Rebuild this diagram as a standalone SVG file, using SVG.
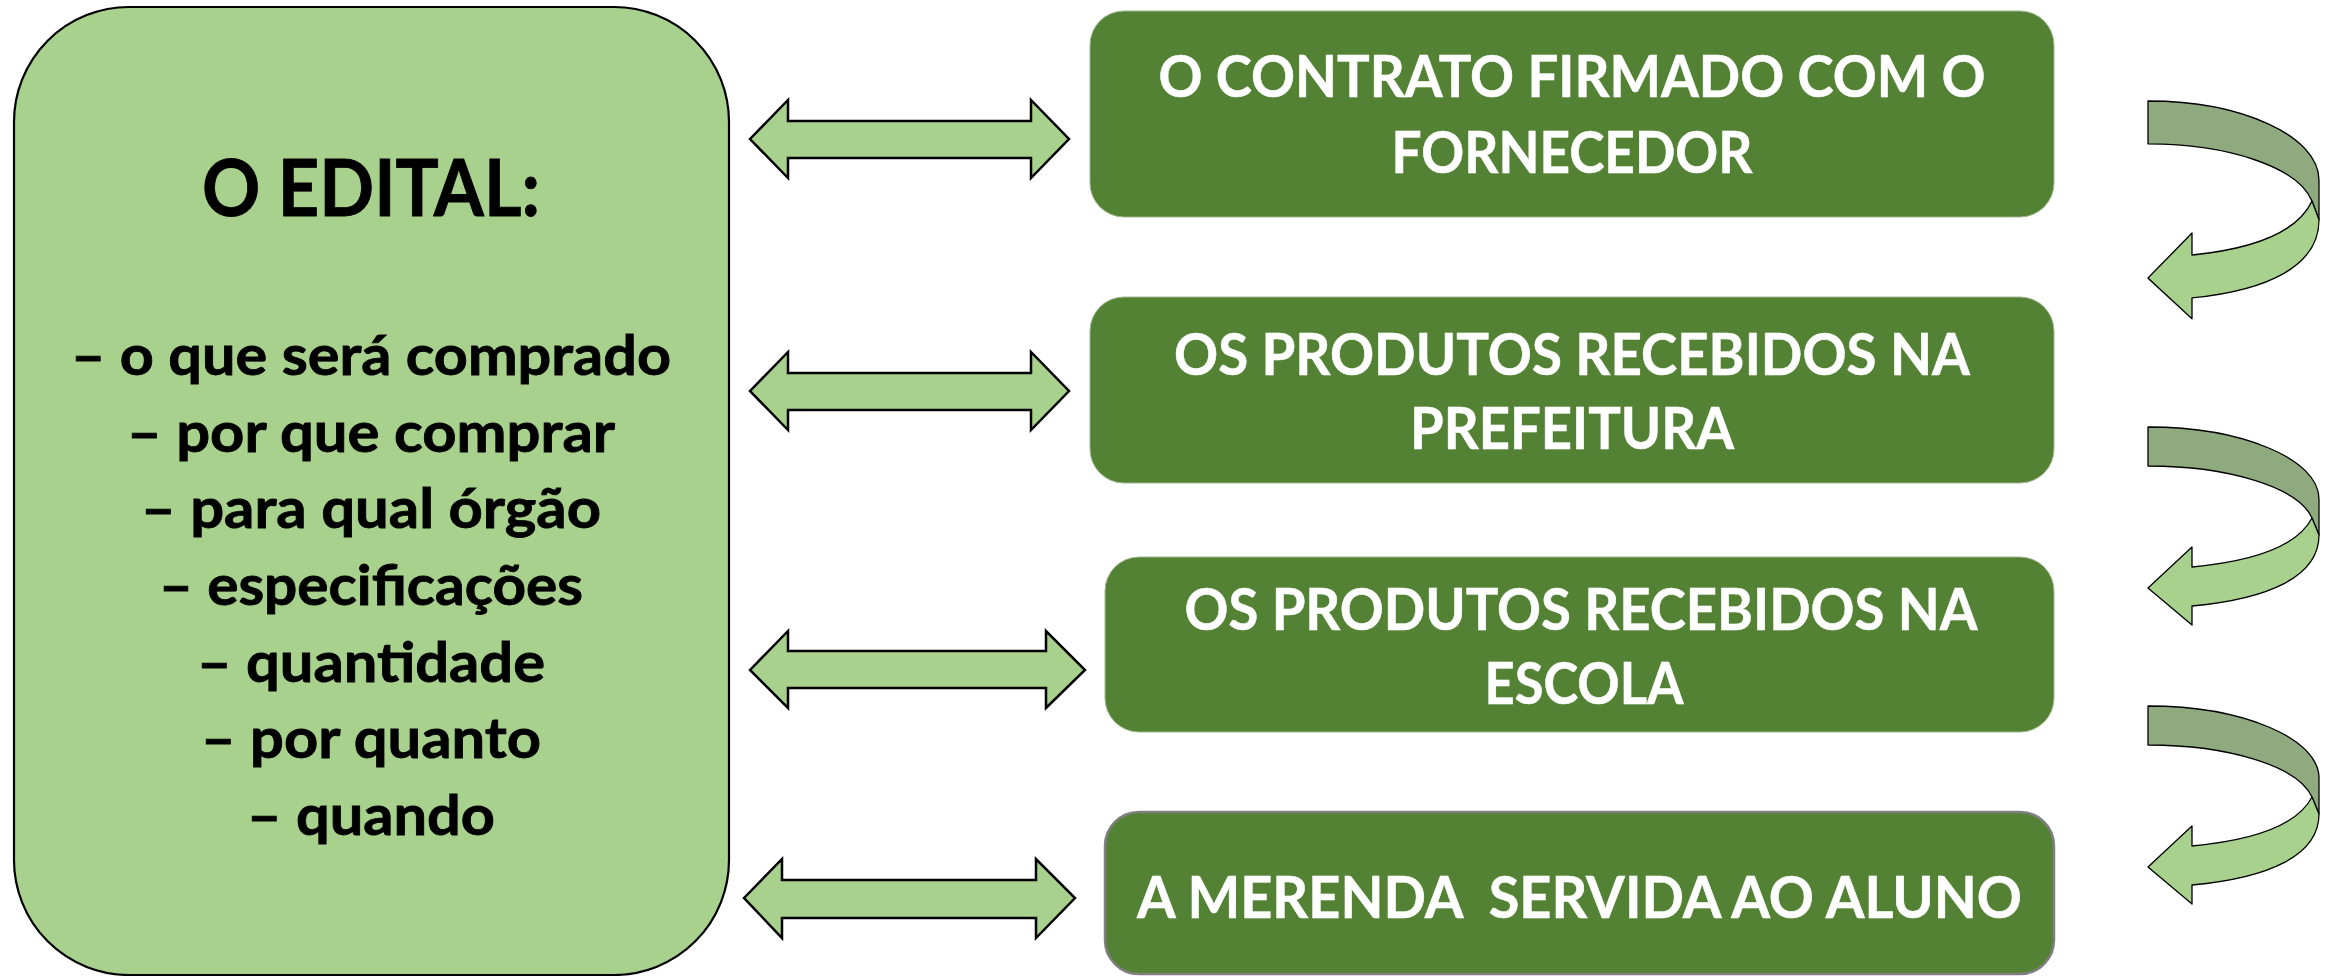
<svg xmlns="http://www.w3.org/2000/svg" xmlns:xlink="http://www.w3.org/1999/xlink" width="2328" height="976" viewBox="0 0 2328 976">
<style>
.edital{fill:#A9D18E;stroke:#000;stroke-width:2.2}
.step{fill:#548235;stroke:#9fb98f;stroke-width:1}
.step4{fill:#548235;stroke:#7f7f7f;stroke-width:2.5}
.dbl{fill:#A9D18E;stroke:#000;stroke-width:2.5;stroke-linejoin:miter}
.curlback{fill:#8FAA7F;stroke:#000;stroke-width:1.3;stroke-linejoin:round}
.curlfront{fill:#A9D18E;stroke:#000;stroke-width:1.3;stroke-linejoin:round}
.t{font-family:Lato,"Liberation Sans",sans-serif;font-weight:bold;text-anchor:middle}
.dark{fill:#000;stroke:#000;stroke-width:0.8}
.white{fill:#fff;stroke:#fff;stroke-width:0.5}
</style>
<defs>
<g id="curl">
<path class="curlback" d="M0,0 C94,0 171,32 171,72 L171,108 L164,91 C150,60 80,39 0,39 Z"/>
<path class="curlfront" d="M164,91 C150,118 110,134 44,140 L44,120 L0,161 L44,198 L44,179 C120,172 171,150 171,108 Z"/>
</g>
</defs>
<rect width="2328" height="976" fill="#fff"/>

<g id="edital">
<rect class="edital" x="14" y="7" width="715" height="968" rx="115" ry="115"/>
<text class="t dark" x="371" y="216" font-size="78" textLength="338" lengthAdjust="spacingAndGlyphs">O EDITAL:</text>
<text class="t dark" x="371" y="375" font-size="56" textLength="600" lengthAdjust="spacingAndGlyphs">– o que será comprado</text>
<text class="t dark" x="371" y="452" font-size="56" textLength="488" lengthAdjust="spacingAndGlyphs">– por que comprar</text>
<text class="t dark" x="371" y="528" font-size="56" textLength="460" lengthAdjust="spacingAndGlyphs">– para qual órgão</text>
<text class="t dark" x="371" y="605" font-size="56" textLength="424" lengthAdjust="spacingAndGlyphs">– especificações</text>
<text class="t dark" x="371" y="682" font-size="56" textLength="348" lengthAdjust="spacingAndGlyphs">– quantidade</text>
<text class="t dark" x="371" y="758" font-size="56" textLength="340" lengthAdjust="spacingAndGlyphs">– por quanto</text>
<text class="t dark" x="371" y="835" font-size="56" textLength="248" lengthAdjust="spacingAndGlyphs">– quando</text>
</g>

<g id="contrato">
<rect class="step" x="1090" y="11" width="964" height="206" rx="34" ry="34"/>
<text class="t white" x="1572" y="97" font-size="58" textLength="827" lengthAdjust="spacingAndGlyphs">O CONTRATO FIRMADO COM O</text>
<text class="t white" x="1572" y="173" font-size="58" textLength="361" lengthAdjust="spacingAndGlyphs">FORNECEDOR</text>
</g>

<g id="prefeitura">
<rect class="step" x="1090" y="297" width="964" height="186" rx="34" ry="34"/>
<text class="t white" x="1572" y="375" font-size="58" textLength="796" lengthAdjust="spacingAndGlyphs">OS PRODUTOS RECEBIDOS NA</text>
<text class="t white" x="1572" y="449" font-size="58" textLength="324" lengthAdjust="spacingAndGlyphs">PREFEITURA</text>
</g>

<g id="escola">
<rect class="step" x="1105" y="557" width="949" height="175" rx="34" ry="34"/>
<text class="t white" x="1581" y="630" font-size="58" textLength="793" lengthAdjust="spacingAndGlyphs">OS PRODUTOS RECEBIDOS NA</text>
<text class="t white" x="1584" y="704" font-size="58" textLength="199" lengthAdjust="spacingAndGlyphs">ESCOLA</text>
</g>

<g id="merenda">
<rect class="step4" x="1105" y="812" width="949" height="162" rx="34" ry="34"/>
<text class="t white" x="1579.5" y="918" font-size="58" textLength="885" lengthAdjust="spacingAndGlyphs" xml:space="preserve">A MERENDA  SERVIDA AO ALUNO</text>
</g>

<g id="connectors">
<path class="dbl" d="M750,139 L788,100 L788,121 L1031,121 L1031,100 L1069,139 L1031,178 L1031,158 L788,158 L788,178 Z"/>
<path class="dbl" d="M750,391 L788,352 L788,373 L1031,373 L1031,352 L1069,391 L1031,430 L1031,410 L788,410 L788,430 Z"/>
<path class="dbl" d="M750,670 L788,631 L788,651 L1046,651 L1046,631 L1085,670 L1046,708 L1046,688 L788,688 L788,708 Z"/>
<path class="dbl" d="M744,898 L782,859 L782,880 L1036,880 L1036,859 L1075,898 L1036,938 L1036,918 L782,918 L782,938 Z"/>
<use xlink:href="#curl" href="#curl" transform="translate(2148,101) scale(1,1.1)"/>
<use xlink:href="#curl" href="#curl" transform="translate(2148,427)"/>
<use xlink:href="#curl" href="#curl" transform="translate(2148,706)"/>
</g>
</svg>
